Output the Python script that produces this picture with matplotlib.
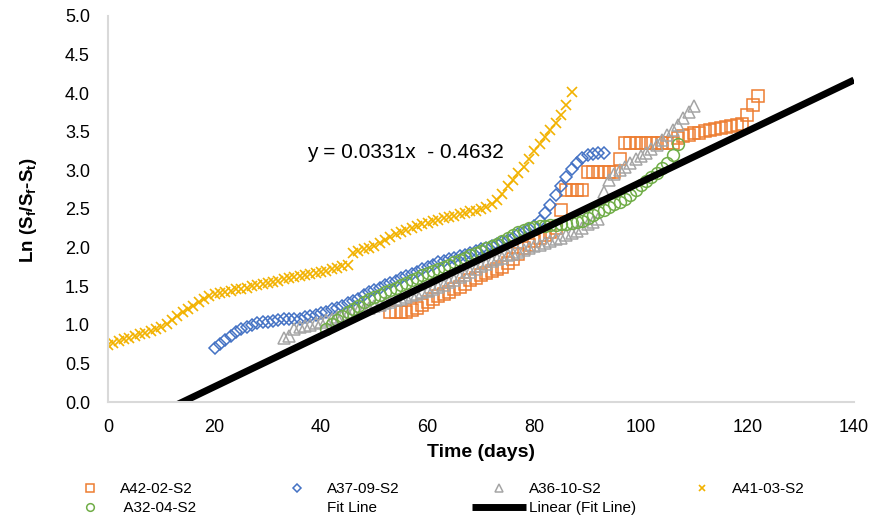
import numpy as np
import matplotlib
matplotlib.use('Agg')
import matplotlib.pyplot as plt
from matplotlib.ticker import FormatStrFormatter

plt.rcParams['font.family'] = ['Liberation Sans', 'DejaVu Sans']
plt.rcParams['mathtext.fontset'] = 'custom'
plt.rcParams['mathtext.rm'] = 'Liberation Sans'
plt.rcParams['mathtext.bf'] = 'Liberation Sans:bold'

# values (x = day, y = Ln(Sf/Sf-St))
days_a41 = np.arange(0, 88)
ln_a41 = [0.74, 0.77, 0.79, 0.81, 0.83, 0.85, 0.88, 0.90, 0.92, 0.95,
          0.97, 1.01, 1.06, 1.11, 1.16, 1.21, 1.25, 1.29, 1.33, 1.37,
          1.40, 1.41, 1.43, 1.44, 1.46, 1.47, 1.48, 1.50, 1.51, 1.53,
          1.54, 1.56, 1.57, 1.59, 1.60, 1.62, 1.63, 1.64, 1.66, 1.67,
          1.68, 1.70, 1.72, 1.74, 1.76, 1.78, 1.93, 1.96, 1.98, 2.00,
          2.02, 2.06, 2.10, 2.14, 2.18, 2.20, 2.23, 2.26, 2.28, 2.30,
          2.32, 2.34, 2.36, 2.38, 2.40, 2.41, 2.43, 2.45, 2.47, 2.48,
          2.50, 2.53, 2.57, 2.62, 2.70, 2.80, 2.88, 2.96, 3.05, 3.15,
          3.25, 3.34, 3.43, 3.52, 3.62, 3.72, 3.85, 4.01]

days_a37 = np.arange(20, 94)
ln_a37 = [0.70, 0.75, 0.80, 0.86, 0.91, 0.94, 0.97, 1.00, 1.02, 1.03,
          1.04, 1.05, 1.06, 1.07, 1.07, 1.07, 1.08, 1.10, 1.12, 1.13,
          1.15, 1.17, 1.20, 1.22, 1.25, 1.28, 1.31, 1.34, 1.38, 1.42,
          1.45, 1.48, 1.51, 1.54, 1.57, 1.60, 1.63, 1.66, 1.69, 1.72,
          1.75, 1.78, 1.81, 1.83, 1.85, 1.87, 1.89, 1.91, 1.93, 1.96,
          1.98, 2.00, 2.02, 2.05, 2.07, 2.10, 2.13, 2.17, 2.20, 2.24,
          2.28, 2.35, 2.45, 2.55, 2.68, 2.80, 2.92, 3.02, 3.10, 3.16,
          3.20, 3.21, 3.22, 3.22]

days_a36 = np.arange(33, 111)
ln_a36 = [0.83, 0.85, 0.95, 0.97, 0.99, 1.00, 1.02, 1.04, 1.06, 1.08,
          1.10, 1.12, 1.14, 1.16, 1.18, 1.20, 1.22, 1.24, 1.26, 1.28,
          1.30, 1.32, 1.34, 1.36, 1.38, 1.40, 1.42, 1.44, 1.46, 1.49,
          1.52, 1.55, 1.58, 1.62, 1.65, 1.68, 1.72, 1.76, 1.79, 1.82,
          1.85, 1.87, 1.90, 1.92, 1.94, 1.97, 1.99, 2.02, 2.04, 2.06,
          2.08, 2.11, 2.13, 2.16, 2.19, 2.22, 2.26, 2.30, 2.33, 2.37,
          2.72, 2.88, 2.95, 3.00, 3.05, 3.10, 3.15, 3.19, 3.23, 3.28,
          3.33, 3.40, 3.46, 3.52, 3.59, 3.68, 3.76, 3.84]

days_a32 = np.arange(41, 108)
ln_a32 = [0.95, 1.01, 1.06, 1.12, 1.17, 1.21, 1.25, 1.29, 1.33, 1.36,
          1.39, 1.42, 1.45, 1.48, 1.51, 1.54, 1.58, 1.61, 1.64, 1.67,
          1.70, 1.72, 1.75, 1.78, 1.81, 1.84, 1.87, 1.90, 1.93, 1.96,
          1.99, 2.02, 2.05, 2.08, 2.12, 2.16, 2.20, 2.23, 2.25, 2.27,
          2.28, 2.28, 2.29, 2.29, 2.30, 2.31, 2.32, 2.33, 2.35, 2.38,
          2.42, 2.46, 2.49, 2.53, 2.56, 2.59, 2.63, 2.68, 2.74, 2.81,
          2.86, 2.92, 2.97, 3.03, 3.09, 3.20, 3.34]

days_a42 = np.arange(53, 123)
ln_a42 = [1.17, 1.16, 1.16, 1.17, 1.19, 1.22, 1.26, 1.30, 1.34, 1.37,
          1.40, 1.43, 1.46, 1.49, 1.53, 1.58, 1.61, 1.64, 1.67, 1.70,
          1.72, 1.75, 1.80, 1.85, 1.92, 1.99, 2.04, 2.08, 2.12, 2.16,
          2.20, 2.25, 2.49, 2.74, 2.74, 2.74, 2.74, 2.98, 2.98, 2.98,
          2.98, 2.98, 2.98, 3.15, 3.35, 3.35, 3.35, 3.35, 3.35, 3.35,
          3.35, 3.35, 3.35, 3.35, 3.42, 3.44, 3.46, 3.48, 3.49, 3.51,
          3.52, 3.53, 3.55, 3.56, 3.57, 3.59, 3.60, 3.72, 3.85, 3.97]

# linear trendline shown on the chart
slope = 0.0331
intercept = -0.4632
fit_x = np.array([0, 140])

fig = plt.figure(figsize=(8.73, 5.21), dpi=100)
ax = fig.add_axes([0.1237, 0.2284, 0.8545, 0.7409])

mk = dict(ls='none', mfc='none', mew=1.1)
h42, = ax.plot(days_a42, ln_a42, marker='s', ms=8.2, mec='#ED7D31', label='A42-02-S2', **mk)
h37, = ax.plot(days_a37, ln_a37, marker='D', ms=5.8, mec='#4472C4', label='A37-09-S2', **mk)
h36, = ax.plot(days_a36, ln_a36, marker='^', ms=8.5, mec='#A5A5A5', label='A36-10-S2', **mk)
h41, = ax.plot(days_a41, ln_a41, marker='x', ms=7.5, mec='#F2B200', label='A41-03-S2',
               ls='none', mew=1.2)
h32, = ax.plot(days_a32, ln_a32, marker='o', ms=8.5, mec='#70AD47', label=' A32-04-S2', **mk)
hfit, = ax.plot([], [], ls='none', marker='none', label='Fit Line')
hlin, = ax.plot(fit_x, slope * fit_x + intercept, color='black', lw=5,
                solid_capstyle='butt', label='Linear (Fit Line)')

ax.text(37.3, 3.23, 'y = 0.0331x  - 0.4632', fontsize=15, va='center', ha='left')

ax.set_xlim(0, 140)
ax.set_ylim(0, 5)
ax.set_xticks(np.arange(0, 141, 20))
ax.set_yticks(np.arange(0, 5.01, 0.5))
ax.yaxis.set_major_formatter(FormatStrFormatter('%.1f'))
ax.tick_params(axis='both', length=0, labelsize=13)
ax.tick_params(axis='y', pad=13)
ax.tick_params(axis='x', pad=12)

for s in ['top', 'right']:
    ax.spines[s].set_visible(False)
for s in ['left', 'bottom']:
    ax.spines[s].set_color('#D9D9D9')
    ax.spines[s].set_linewidth(1.5)

ax.set_xlabel('Time (days)', fontsize=14, fontweight='bold', va='center')
ax.xaxis.set_label_coords(0.5, -0.132)
ax.set_ylabel(r'Ln (S$_\mathbf{f}$/S$_\mathbf{f}$-S$_\mathbf{t}$)', fontsize=13.5,
              fontweight='bold', va='center')
ax.yaxis.set_label_coords(-0.107, 0.497)

# legend: four columns placed like the original
cols = [([h42, h32], 63), ([h37, hfit], 270), ([h36, hlin], 472), ([h41], 675)]
for handles, px in cols:
    fig.legend(handles=handles, loc='upper left',
               bbox_to_anchor=(px / 873, 0.075), bbox_transform=fig.transFigure,
               frameon=False, fontsize=11, borderpad=0, borderaxespad=0,
               handlelength=3.53, handletextpad=0.2, labelspacing=0.35,
               markerscale=0.65)

fig.savefig('out.png', dpi=100)
